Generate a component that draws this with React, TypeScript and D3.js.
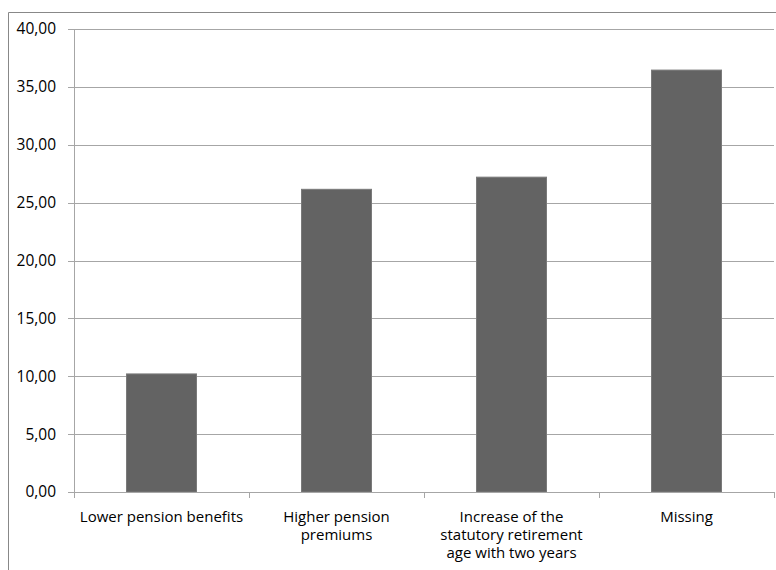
import React from "react";
import * as d3 from "d3";

const categories: string[][] = [
  ["Lower pension benefits"],
  ["Higher pension", "premiums"],
  ["Increase of the", "statutory retirement", "age with two years"],
  ["Missing"],
];
const values: number[] = [10.2, 26.15, 27.2, 36.45];
const yTicks: number[] = [0, 5, 10, 15, 20, 25, 30, 35, 40];

export default function App() {
  const W = 776, H = 570;
  const x0 = 74, x1 = 774, yTop = 29, yBot = 492;
  const x = d3.scaleBand<number>().domain(d3.range(values.length)).range([x0, x1]).paddingInner(0.6).paddingOuter(0.3);
  const y = d3.scaleLinear().domain([0, 40]).range([yBot, yTop]);
  const step = (x1 - x0) / values.length;
  const fmt = (v: number) => v.toFixed(2).replace(".", ",");
  const font = "'Open Sans', Lato, sans-serif";
  return (
    <svg width={W} height={H} style={{ position: "absolute", left: 0, top: 0 }}>
      <rect x={0} y={0} width={W} height={H} fill="#fff" />
      <line x1={8.5} y1={12.5} x2={W} y2={12.5} stroke="#888" />
      <line x1={8.5} y1={12.5} x2={8.5} y2={H} stroke="#888" />
      {yTicks.map((t) => (
        <g key={t}>
          {t > 0 && <line x1={x0} x2={x1} y1={Math.round(y(t)) + 0.5} y2={Math.round(y(t)) + 0.5} stroke="#a6a6a6" />}
          <line x1={68} x2={x0} y1={Math.round(y(t)) + 0.5} y2={Math.round(y(t)) + 0.5} stroke="#a6a6a6" />
          <text x={56} y={y(t)} dy="0.35em" textAnchor="end" fontSize={15.5} fontFamily={font} fill="#000">{fmt(t)}</text>
        </g>
      ))}
      {values.map((v, i) => (
        <rect key={i} x={x(i)!} y={y(v)} width={x.bandwidth()} height={yBot - y(v)} fill="#636363" stroke="#7a7a7a" strokeWidth={1} />
      ))}
      <line x1={x0 + 0.5} x2={x0 + 0.5} y1={yTop} y2={yBot} stroke="#a6a6a6" />
      <line x1={x0} x2={x1} y1={yBot + 0.5} y2={yBot + 0.5} stroke="#a6a6a6" />
      {d3.range(values.length + 1).map((i) => (
        <line key={i} x1={x0 + i * step + 0.5} x2={x0 + i * step + 0.5} y1={yBot} y2={yBot + 6} stroke="#a6a6a6" />
      ))}
      {categories.map((lines, i) => (
        <text key={i} textAnchor="middle" fontSize={15} fontFamily={font} fill="#000">
          {lines.map((l, j) => (
            <tspan key={j} x={x(i)! + x.bandwidth() / 2} y={522 + j * 18}>{l}</tspan>
          ))}
        </text>
      ))}
    </svg>
  );
}
